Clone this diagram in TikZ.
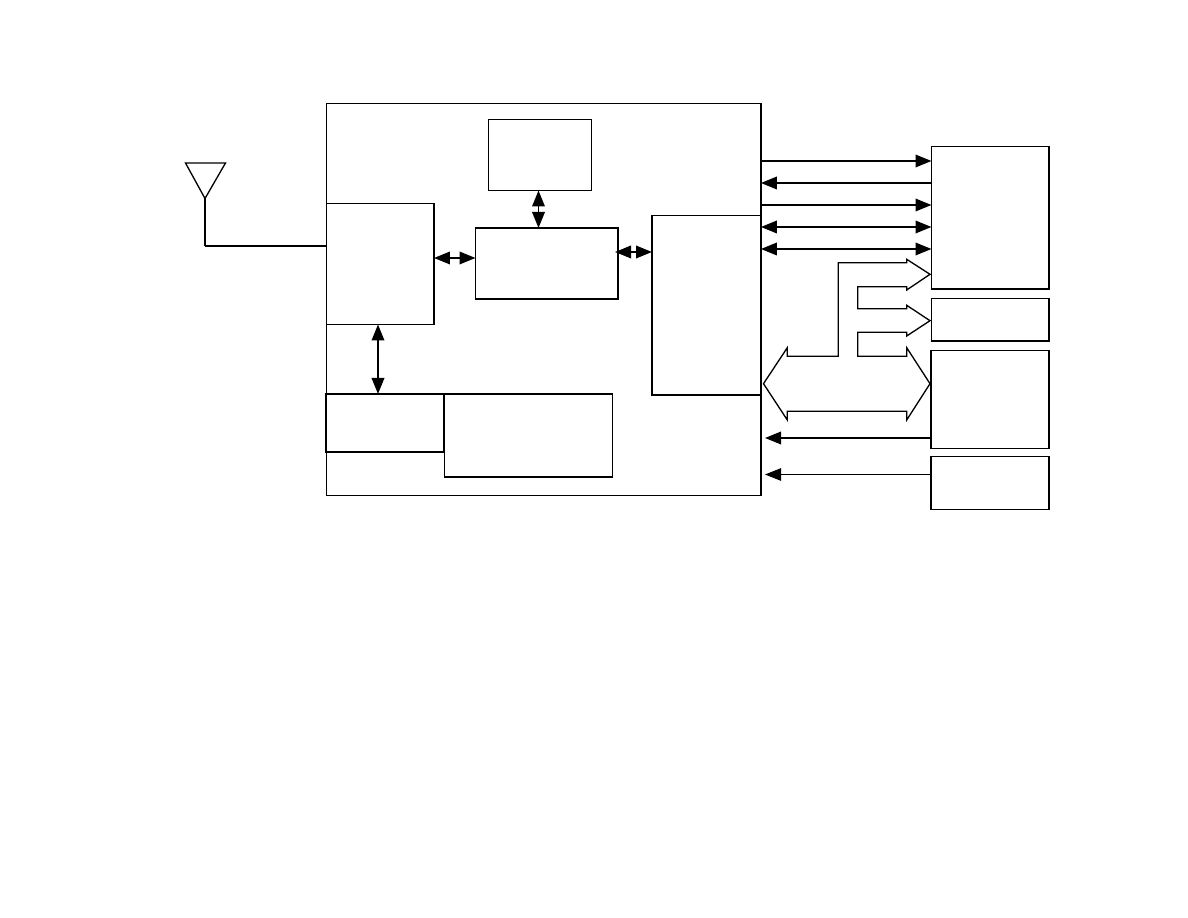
\documentclass[tikz,border=0pt]{standalone}
\usepackage{tikz}
\usetikzlibrary{arrows.meta}

\begin{document}
\begin{tikzpicture}[
  x=0.02cm,y=-0.02cm,
  blk/.style 2 args={draw=black,line width=0.75pt,inner sep=0pt,outer sep=0pt,anchor=north west,
              minimum width=#1,minimum height=#2},
  bus/.style={draw=black,line width=1.1pt,{Triangle[length=0.32cm,width=0.25cm]}-{Triangle[length=0.32cm,width=0.25cm]}},
  busr/.style={draw=black,line width=1.1pt,-{Triangle[length=0.32cm,width=0.25cm]}},
  busl/.style={draw=black,line width=1.1pt,{Triangle[length=0.32cm,width=0.25cm]}-},
  wide/.style={draw=black,line width=0.75pt,line join=miter},
]
\fill[white] (0,0) rectangle (1188,918);
\useasboundingbox (0,0) rectangle (1188,918);

% handset body and inner blocks
\node[blk={8.69cm}{7.83cm}] (chip) at (326.5,103.8) {};
\node[blk={2.06cm}{1.42cm}] (mem) at (488.5,119.5) {};
\node[blk={2.15cm}{2.42cm}] (rf) at (326.5,203.5) {};
\node[blk={2.85cm}{1.42cm}] (dsp) at (475.5,228) {};
\node[blk={2.18cm}{3.59cm}] (ctrl) at (652,215.5) {};
\node[blk={2.37cm}{1.16cm}] (adc) at (325.5,394) {};
\node[blk={3.36cm}{1.66cm}] (pwr) at (444.3,394) {};

% peripherals
\node[blk={2.35cm}{2.85cm}] (lcd) at (931.5,146.5) {};
\node[blk={2.35cm}{0.85cm}] (kbd) at (931.5,298.5) {};
\node[blk={2.36cm}{1.96cm}] (card) at (931,350.5) {};
\node[blk={2.36cm}{1.06cm}] (batt) at (931,456.5) {};

% antenna
\coordinate (feed) at (204.7,245.7);
\draw[line width=0.75pt,line join=miter] (185.5,163) -- (225.5,163) -- (205,198.5) -- cycle;
\draw[line width=0.75pt] (205,198.5) -- (205,245.7);
\draw[line width=1.1pt] (feed) -- (rf.west |- feed);

% links inside the body
\draw[bus] (rf.east |- 0,258) -- (dsp.west |- 0,258);
\draw[bus] (615,252) -- (ctrl.west |- 0,252);
\draw[bus] (538.5,0 |- mem.south) -- (538.5,0 |- dsp.north);
\draw[bus] (378,0 |- rf.south) -- (378,0 |- adc.north);

% links to the peripherals
\draw[busr] (chip.east |- 0,161) -- (lcd.west |- 0,161);
\draw[busl] (chip.east |- 0,183) -- (lcd.west |- 0,183);
\draw[busr] (chip.east |- 0,205) -- (lcd.west |- 0,205);
\foreach \y in {227,249}
  \draw[bus] (chip.east |- 0,\y) -- (lcd.west |- 0,\y);
\draw[busl] (765,438) -- (card.west |- 0,438);
\draw[busl,line width=0.55pt] (765,474.5) -- (batt.west |- 0,474.5);

% wide data bus
\draw[wide] (763.5,383.7) -- (787.3,347.7) -- (787.3,356.3) -- (838.3,356.3) -- (838.3,262.7)
  -- (906.7,262.7) -- (906.7,259.3) -- (930,274.3) -- (906.7,290) -- (906.7,286.7)
  -- (857.7,286.7) -- (857.7,308.7) -- (906.7,308.7) -- (906.7,305.3) -- (930,320.7)
  -- (906.7,336) -- (906.7,332.3) -- (857.7,332.3) -- (857.7,356.3) -- (906.7,356.3)
  -- (906.7,347.7) -- (930,383.7) -- (906.7,420) -- (906.7,411.3) -- (787.3,411.3)
  -- (787.3,420) -- cycle;
\end{tikzpicture}
\end{document}
